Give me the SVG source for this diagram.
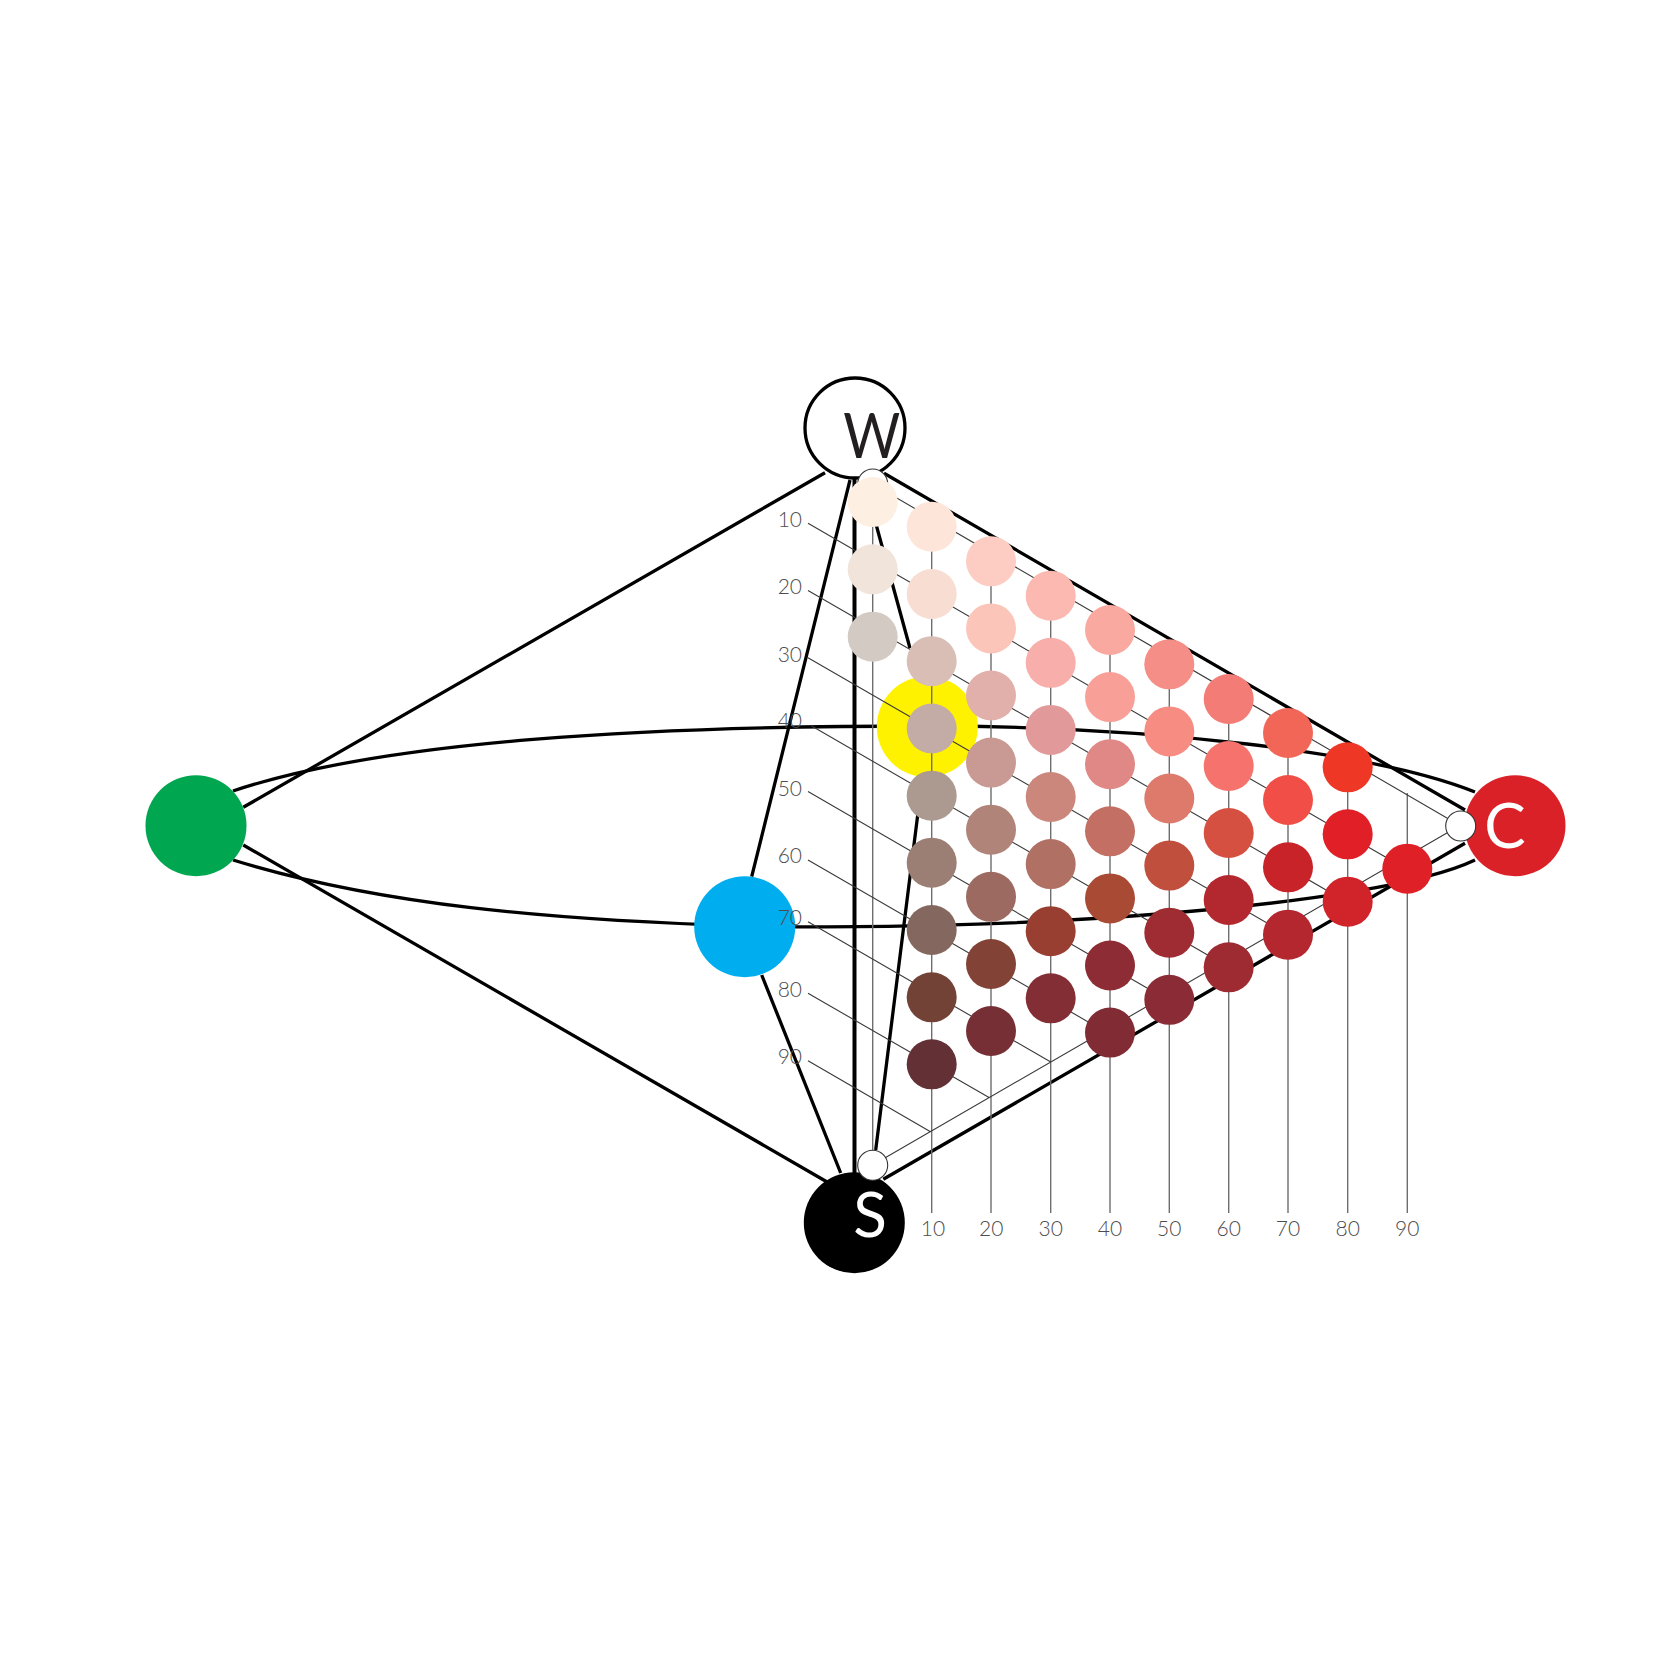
<svg xmlns="http://www.w3.org/2000/svg" width="1680" height="1680" viewBox="0 0 1680 1680">
<style>
.t{fill:none;stroke:#000;stroke-width:3.3}
.big{r:50.5px}
.sw{r:25px}
.sm{r:15px;fill:#fff;stroke:#333;stroke-width:1.1}
.g{stroke:#3a3a3a;stroke-width:1.1;fill:none}
.v{stroke:#6e6e6e;stroke-width:1.4;fill:none}
.l{font-family:Lato,"Open Sans",sans-serif;font-weight:300;font-size:21px;fill:#4d4d4d}
.e{text-anchor:end}
.m{text-anchor:middle}
.b{font-family:Lato,"Open Sans",sans-serif;font-weight:400;font-size:62px;text-anchor:middle}
</style>
<rect width="1680" height="1680" fill="#fff"/>
<g id="connectors">
<path class="t" d="M243.3 807.3L825 472.7M243.3 845L826.7 1181.7M884 473.3L1465 810M883.3 1179.3L1465 843.3M751.7 876.7L850 480M761.7 975L840.7 1173M876.7 526.7L864 480M910 648.3L876.7 526.7M922.6 776L875.7 1150"/>
<path class="t" style="stroke-width:4" d="M854.5 478V1174"/>
<path class="t" d="M233 791C385 740 650 726 927 726C1150 726 1375 752 1475 792M233 860C380 905 550 920 745 926C1000 932 1375 908 1475 860"/>
</g>
<g id="node-green"><circle class="big" cx="196" cy="825.7" fill="#00a650"/></g>
<g id="node-blue"><circle class="big" cx="744.7" cy="926.7" fill="#00aeef"/></g>
<g id="node-yellow"><circle class="big" cx="927.3" cy="726.7" fill="#fff200"/></g>
<g id="node-white"><circle cx="855" cy="428" r="50" fill="#fff" stroke="#000" stroke-width="3.3"/><text class="b" x="871.7" y="458" fill="#231f20" textLength="57" lengthAdjust="spacingAndGlyphs">W</text></g>
<g id="node-black"><circle class="big" cx="854.3" cy="1222.7" fill="#000"/><text class="b" x="870" y="1236.7" fill="#fff">S</text></g>
<g id="node-cyan-red"><circle class="big" cx="1515" cy="825.7" fill="#da2128"/><text class="b" x="1505" y="847.7" fill="#fff">C</text></g>
<g id="grid">
<path class="v" d="M872.7 484V1165M931.7 518V1213M991 552V1213M1050.7 587V1213M1110 621V1213M1169.3 656V1213M1228.7 690V1213M1288 724V1213M1347.7 759V1213M1407.3 793V1213"/>
<path class="g" d="M872.7 484L1460.7 826M872.7 1165L1460.7 825M808 523.3L1395.4 862.8M808 590.5L1337.3 896.4M808 657.7L1279.2 930M811.7 726L1221.9 963.2M808 791.5L1163 997.2M808 860L1104.2 1031.2M808 921.7L1050.8 1062M808 993.3L989.5 1097.8M808 1060.7L930.5 1131.7"/>
</g>
<g id="anchor-w"><circle class="sm" cx="872.7" cy="484"/></g>
<g id="anchor-s"><circle class="sm" cx="872.7" cy="1165.3"/></g>
<g id="anchor-c"><circle class="sm" cx="1460.7" cy="826"/></g>
<g id="swatches">
<g id="c0-1"><circle class="sw" cx="872.7" cy="502" fill="#fdf0e3"/></g>
<g id="c0-2"><circle class="sw" cx="872.7" cy="569.3" fill="#f1e4da"/></g>
<g id="c0-3"><circle class="sw" cx="872.7" cy="636.7" fill="#d3cbc3"/></g>
<g id="c1-1"><circle class="sw" cx="931.7" cy="526.7" fill="#fee5d9"/></g>
<g id="c1-2"><circle class="sw" cx="931.7" cy="594" fill="#f8ddd2"/></g>
<g id="c1-3"><circle class="sw" cx="931.7" cy="661.2" fill="#d9beb6"/></g>
<g id="c1-4"><circle class="sw" cx="931.7" cy="728.5" fill="#c3aba6"/></g>
<g id="c1-5"><circle class="sw" cx="931.7" cy="795.7" fill="#ac9a90"/></g>
<g id="c1-6"><circle class="sw" cx="931.7" cy="862.7" fill="#9b7f75"/></g>
<g id="c1-7"><circle class="sw" cx="931.7" cy="930" fill="#84685f"/></g>
<g id="c1-8"><circle class="sw" cx="931.7" cy="997.3" fill="#734236"/></g>
<g id="c1-9"><circle class="sw" cx="931.7" cy="1064.3" fill="#623035"/></g>
<g id="c2-1"><circle class="sw" cx="991" cy="561.3" fill="#fdccc2"/></g>
<g id="c2-2"><circle class="sw" cx="991" cy="628.4" fill="#fcc5ba"/></g>
<g id="c2-3"><circle class="sw" cx="991" cy="695.5" fill="#e2b0ab"/></g>
<g id="c2-4"><circle class="sw" cx="991" cy="762.6" fill="#c89a93"/></g>
<g id="c2-5"><circle class="sw" cx="991" cy="829.7" fill="#b08478"/></g>
<g id="c2-6"><circle class="sw" cx="991" cy="896.8" fill="#9c6a60"/></g>
<g id="c2-7"><circle class="sw" cx="991" cy="964" fill="#824235"/></g>
<g id="c2-8"><circle class="sw" cx="991" cy="1031" fill="#752f35"/></g>
<g id="c3-1"><circle class="sw" cx="1050.7" cy="595.7" fill="#fbb9b1"/></g>
<g id="c3-2"><circle class="sw" cx="1050.7" cy="662.8" fill="#f8aeab"/></g>
<g id="c3-3"><circle class="sw" cx="1050.7" cy="729.9" fill="#e19a99"/></g>
<g id="c3-4"><circle class="sw" cx="1050.7" cy="797" fill="#cb877b"/></g>
<g id="c3-5"><circle class="sw" cx="1050.7" cy="864.1" fill="#b17064"/></g>
<g id="c3-6"><circle class="sw" cx="1050.7" cy="931.2" fill="#983f32"/></g>
<g id="c3-7"><circle class="sw" cx="1050.7" cy="998.3" fill="#832e34"/></g>
<g id="c4-1"><circle class="sw" cx="1110" cy="630" fill="#f9a9a0"/></g>
<g id="c4-2"><circle class="sw" cx="1110" cy="697.1" fill="#f8a097"/></g>
<g id="c4-3"><circle class="sw" cx="1110" cy="764.2" fill="#e08886"/></g>
<g id="c4-4"><circle class="sw" cx="1110" cy="831.3" fill="#c46f63"/></g>
<g id="c4-5"><circle class="sw" cx="1110" cy="898.4" fill="#a94a34"/></g>
<g id="c4-6"><circle class="sw" cx="1110" cy="965.5" fill="#8d2c34"/></g>
<g id="c4-7"><circle class="sw" cx="1110" cy="1032.6" fill="#812c34"/></g>
<g id="c5-1"><circle class="sw" cx="1169.3" cy="664.3" fill="#f58e86"/></g>
<g id="c5-2"><circle class="sw" cx="1169.3" cy="731.4" fill="#f78c82"/></g>
<g id="c5-3"><circle class="sw" cx="1169.3" cy="798.5" fill="#dd7a6c"/></g>
<g id="c5-4"><circle class="sw" cx="1169.3" cy="865.6" fill="#c14f3d"/></g>
<g id="c5-5"><circle class="sw" cx="1169.3" cy="932.7" fill="#9f2c32"/></g>
<g id="c5-6"><circle class="sw" cx="1169.3" cy="999.8" fill="#8b2b36"/></g>
<g id="c6-1"><circle class="sw" cx="1228.7" cy="699" fill="#f47c76"/></g>
<g id="c6-2"><circle class="sw" cx="1228.7" cy="766" fill="#f5736c"/></g>
<g id="c6-3"><circle class="sw" cx="1228.7" cy="833" fill="#d65042"/></g>
<g id="c6-4"><circle class="sw" cx="1228.7" cy="900" fill="#b3272f"/></g>
<g id="c6-5"><circle class="sw" cx="1228.7" cy="967.3" fill="#9e2a32"/></g>
<g id="c7-1"><circle class="sw" cx="1288" cy="733" fill="#f26658"/></g>
<g id="c7-2"><circle class="sw" cx="1288" cy="800" fill="#f14e47"/></g>
<g id="c7-3"><circle class="sw" cx="1288" cy="867.3" fill="#c9232a"/></g>
<g id="c7-4"><circle class="sw" cx="1288" cy="934.7" fill="#b4272e"/></g>
<g id="c8-1"><circle class="sw" cx="1347.7" cy="767.3" fill="#ef3725"/></g>
<g id="c8-2"><circle class="sw" cx="1347.7" cy="834.3" fill="#e11f27"/></g>
<g id="c8-3"><circle class="sw" cx="1347.7" cy="901.7" fill="#d1232a"/></g>
<g id="c9-1"><circle class="sw" cx="1407.3" cy="868.7" fill="#e02027"/></g>
</g>
<g id="labels">
<text class="l e" x="802" y="527">10</text>
<text class="l e" x="802" y="594">20</text>
<text class="l e" x="802" y="661.5">30</text>
<text class="l e" x="802" y="728">40</text>
<text class="l e" x="802" y="796">50</text>
<text class="l e" x="802" y="863">60</text>
<text class="l e" x="802" y="925">70</text>
<text class="l e" x="802" y="997">80</text>
<text class="l e" x="802" y="1064">90</text>
<text class="l m" x="933" y="1236">10</text>
<text class="l m" x="991.3" y="1236">20</text>
<text class="l m" x="1050.7" y="1236">30</text>
<text class="l m" x="1110" y="1236">40</text>
<text class="l m" x="1169.3" y="1236">50</text>
<text class="l m" x="1228.7" y="1236">60</text>
<text class="l m" x="1288" y="1236">70</text>
<text class="l m" x="1347.7" y="1236">80</text>
<text class="l m" x="1407.3" y="1236">90</text>
</g>
</svg>
